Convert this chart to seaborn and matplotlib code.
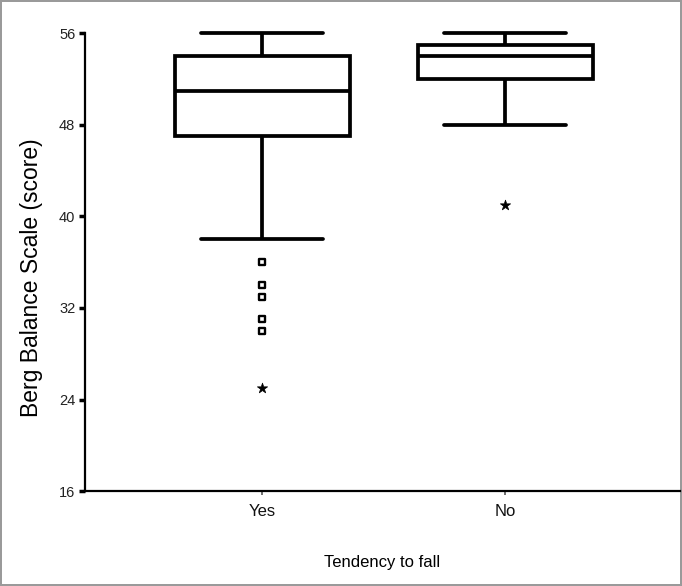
import matplotlib
matplotlib.use("Agg")
import matplotlib.pyplot as plt
import seaborn as sns
import pandas as pd

# ---- data ----
categories = ["Yes", "No"]
# core observations reproducing the box statistics
yes_core = [38, 40, 43, 45, 47, 47, 48, 48, 49, 49, 50, 50, 50, 51, 51, 51,
            52, 52, 52, 53, 53, 53, 53, 54, 54, 54, 55, 55, 55, 55,
            56, 56, 56, 56, 56]
no_core = [48, 50, 51, 52, 52, 53, 53, 53, 54, 54, 54, 54, 55, 55, 55, 55,
           56, 56, 56, 56]
# outliers (squares) and extreme outliers (stars)
yes_outliers = [36, 34, 33, 31, 30]
yes_extremes = [25]
no_outliers = []
no_extremes = [41]
yticks = [16, 24, 32, 40, 48, 56]

sns.set_theme(style="white")
plt.rcParams["font.family"] = ["Liberation Sans", "DejaVu Sans"]

yes_all = yes_core + yes_outliers + yes_extremes
no_all = no_core + no_outliers + no_extremes
df = pd.DataFrame({
    "group": ["Yes"] * len(yes_all) + ["No"] * len(no_all),
    "score": yes_all + no_all,
})
df_out = pd.DataFrame({
    "group": ["Yes"] * len(yes_outliers) + ["No"] * len(no_outliers),
    "score": yes_outliers + no_outliers,
})
df_ext = pd.DataFrame({
    "group": ["Yes"] * len(yes_extremes) + ["No"] * len(no_extremes),
    "score": yes_extremes + no_extremes,
})

fig = plt.figure(figsize=(6.82, 5.86), dpi=100, edgecolor="#9a9a9a", linewidth=1.5)
ax = fig.add_axes([0.1246, 0.162, 0.8725, 0.785])

sns.boxplot(data=df, x="group", y="score", order=categories, ax=ax,
            width=0.72, color="white", linecolor="black", linewidth=2.7,
            showfliers=False, whis=1.5, capwidths=0.5)

sns.scatterplot(data=df_out, x="group", y="score", ax=ax, marker="s", s=24,
                facecolor="white", edgecolor="black", linewidth=1.7, zorder=5)
sns.scatterplot(data=df_ext, x="group", y="score", ax=ax, marker="*", s=60,
                color="black", edgecolor="black", linewidth=0.5, zorder=5)

ax.set_xlim(-0.7286, 1.72)
ax.set_ylim(16, 56.2)
ax.set_yticks(yticks)
ax.set_yticklabels([str(t) for t in yticks])

for s in ["top", "right"]:
    ax.spines[s].set_visible(False)
for s in ["left", "bottom"]:
    ax.spines[s].set_color("black")
    ax.spines[s].set_linewidth(1.6)
ax.spines["left"].set_bounds(16, 56)

ax.tick_params(axis="y", which="both", left=True, length=4, width=2.5,
               color="black", labelsize=10.5, labelcolor="#222222", pad=3)
ax.tick_params(axis="x", which="both", bottom=True, length=3, width=1.2,
               color="#555555", labelsize=12, labelcolor="#111111", pad=6)

ax.set_ylabel("Berg Balance Scale (score)", fontsize=16.5, color="black")
ax.yaxis.set_label_coords(-0.07, 0.463)
ax.set_xlabel("Tendency to fall", fontsize=12, color="black", labelpad=26)
ax.grid(False)

fig.savefig("out.png", dpi=100, edgecolor=fig.get_edgecolor())
